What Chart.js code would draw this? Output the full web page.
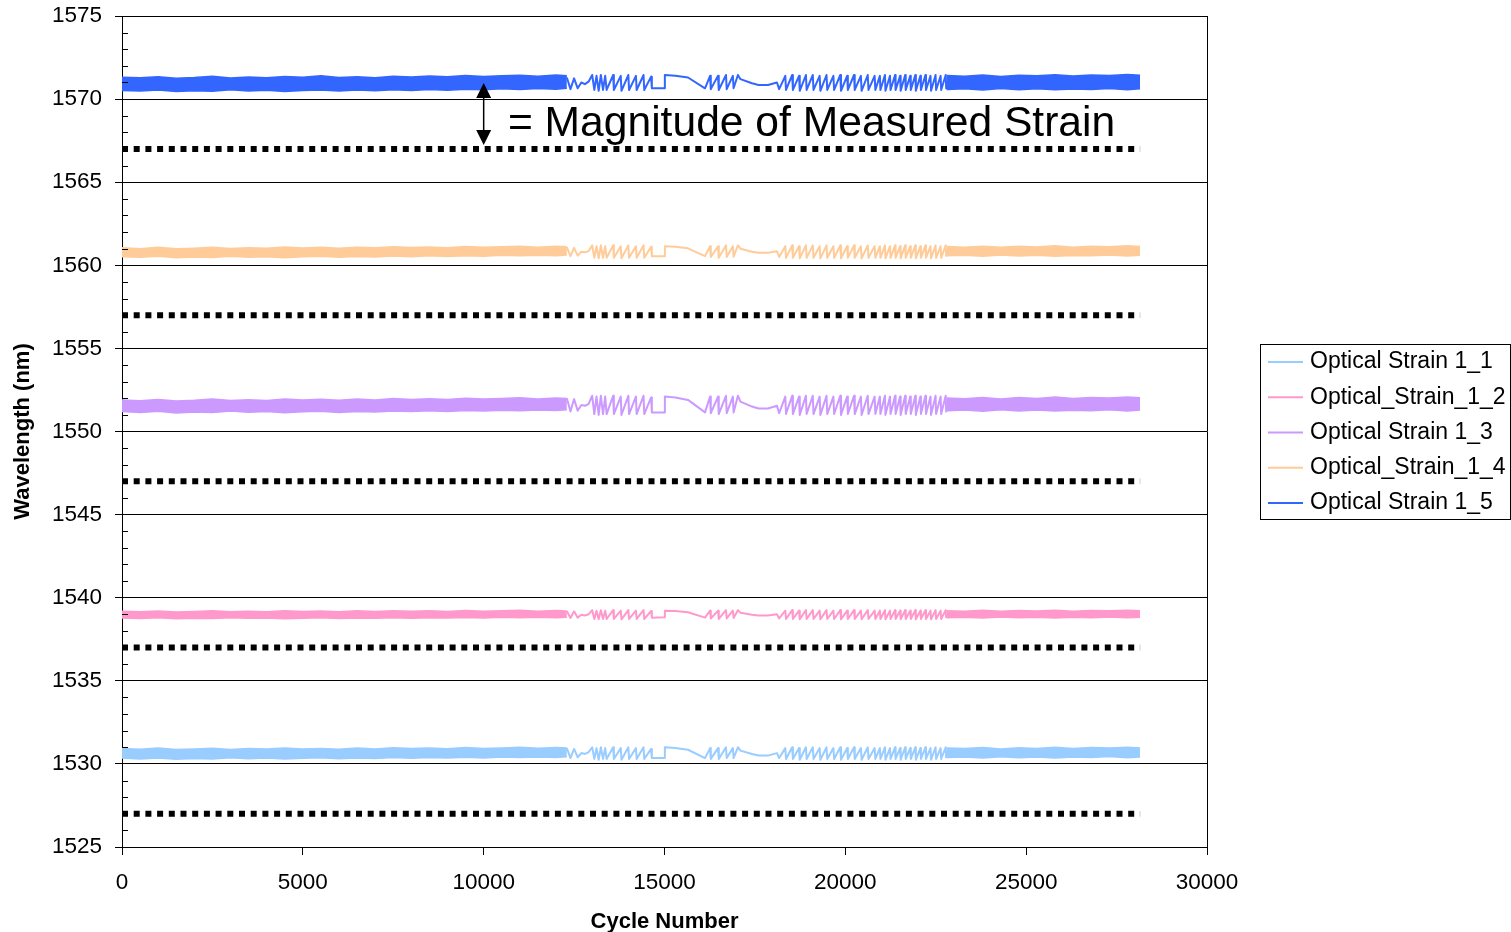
<!DOCTYPE html>
<html>
<head>
<meta charset="utf-8">
<title>Optical strain - wavelength vs cycle number</title>
<script src="https://cdn.jsdelivr.net/npm/chart.js@4.4.1/dist/chart.umd.min.js"></script>
<style>
  html, body { margin: 0; padding: 0; background: #fff; }
  .chart { width: 1511px; height: 932px; }
</style>
</head>
<body>
<div class="chart"><canvas id="myChart"></canvas></div>
<script>
const FONT = "'Liberation Sans', Arial, sans-serif";

const seriesNames  = ["Optical Strain 1_1", "Optical_Strain_1_2", "Optical Strain 1_3", "Optical_Strain_1_4", "Optical Strain 1_5"];
const seriesColors = ["#99ccff", "#ff99cc", "#cc99ff", "#ffcc99", "#3366ff"];

const xTickValues = [0, 5000, 10000, 15000, 20000, 25000, 30000];
const yTickValues = [1525, 1530, 1535, 1540, 1545, 1550, 1555, 1560, 1565, 1570, 1575];

// zero-strain reference wavelengths (dotted lines)
const baselineLevels = [1527, 1537, 1547, 1557, 1567];
const baselineSpan   = [0, 28150];

// dense part of the record: drawn as a band between upper and lower envelope
const bandCyclesA = [0, 500, 1000, 1500, 2000, 2500, 3000, 3500, 4000, 4500, 5000, 5500, 6000,
                     6500, 7000, 7500, 8000, 8500, 9000, 9500, 10000, 10500, 11000, 11500, 12000, 12300];
const bandCyclesB = [22800, 23300, 23800, 24300, 24800, 25300, 25800, 26300, 26800, 27300, 27800, 28150];

// sparse part of the record: individual load cycles
const midCycles = [
  12300, 12400, 12500, 12600, 12700, 12800, 12900, 13000, 13060, 13120, 13180, 13240, 13300, 13360,
  13400, 13580, 13600, 13790, 13810, 14000, 14020, 14210, 14230, 14420, 14440, 14630, 14650,
  14990, 15010, 15300, 15650, 16120,
  16260, 16280, 16480, 16500, 16700, 16720, 16890, 16910, 17030,
  17100, 17420, 17600, 17860, 18110,
  18170, 18340, 18360, 18530, 18550, 18720, 18740, 18910, 18930, 19100, 19120, 19290, 19310, 19480, 19500,
  19670, 19690, 19860, 19880, 20050, 20070, 20240, 20260, 20430, 20450, 20620, 20640, 20810, 20830,
  20955, 20970, 21095, 21110, 21235, 21250, 21375, 21390, 21515, 21530, 21655, 21670, 21795, 21810,
  21935, 21950, 22075, 22090, 22215, 22230, 22355, 22370, 22495, 22510, 22635, 22650, 22775, 22790
];

// Optical Strain 1_1
const s1HiA = [1530.92, 1530.88, 1530.95, 1530.86, 1530.90, 1530.94, 1530.87, 1530.92, 1530.89, 1530.96, 1530.90, 1530.93, 1530.88,
               1530.95, 1530.90, 1530.97, 1530.92, 1530.95, 1530.91, 1530.98, 1530.93, 1530.96, 1531.00, 1530.94, 1530.99, 1530.95];
const s1LoA = [1530.35, 1530.30, 1530.36, 1530.28, 1530.33, 1530.30, 1530.37, 1530.31, 1530.35, 1530.29, 1530.34, 1530.37, 1530.31,
               1530.36, 1530.33, 1530.38, 1530.34, 1530.39, 1530.35, 1530.40, 1530.36, 1530.41, 1530.38, 1530.42, 1530.39, 1530.43];
const s1HiB = [1530.96, 1530.92, 1530.98, 1530.90, 1530.97, 1530.93, 1531.00, 1530.92, 1530.98, 1530.95, 1531.00, 1530.96];
const s1LoB = [1530.38, 1530.42, 1530.35, 1530.43, 1530.37, 1530.42, 1530.36, 1530.41, 1530.38, 1530.44, 1530.37, 1530.42];
const s1Mid = [
  1530.95, 1530.35, 1530.90, 1530.40, 1530.65, 1530.60, 1530.70, 1531.00, 1530.30, 1530.95, 1530.25, 1531.00, 1530.30, 1530.95,
  1530.30, 1531.00, 1530.30, 1530.95, 1530.25, 1531.00, 1530.30, 1530.95, 1530.30, 1531.00, 1530.30, 1530.90, 1530.35,
  1530.35, 1531.00, 1530.95, 1530.85, 1530.35,
  1530.95, 1530.30, 1530.95, 1530.30, 1531.00, 1530.35, 1530.95, 1530.35, 1531.00,
  1530.80, 1530.60, 1530.50, 1530.50, 1530.65,
  1530.35, 1530.95, 1530.30, 1531.00, 1530.30, 1530.95, 1530.25, 1531.00, 1530.30, 1531.00, 1530.30, 1530.95, 1530.25, 1531.00, 1530.30,
  1530.95, 1530.30, 1531.00, 1530.25, 1530.95, 1530.30, 1531.00, 1530.30, 1530.95, 1530.25, 1531.00, 1530.30, 1530.95, 1530.30,
  1530.95, 1530.30, 1531.00, 1530.25, 1530.95, 1530.30, 1531.00, 1530.30, 1530.95, 1530.25, 1531.00, 1530.30, 1530.95, 1530.30,
  1531.00, 1530.25, 1530.95, 1530.30, 1531.00, 1530.30, 1530.95, 1530.25, 1531.00, 1530.30, 1530.95, 1530.30, 1531.00, 1530.35
];

// Optical_Strain_1_2
const s2HiA = [1539.18, 1539.15, 1539.20, 1539.14, 1539.17, 1539.21, 1539.15, 1539.19, 1539.16, 1539.22, 1539.17, 1539.20, 1539.15,
               1539.21, 1539.17, 1539.22, 1539.18, 1539.21, 1539.17, 1539.23, 1539.19, 1539.22, 1539.24, 1539.19, 1539.23, 1539.20];
const s2LoA = [1538.78, 1538.75, 1538.79, 1538.74, 1538.77, 1538.75, 1538.80, 1538.76, 1538.78, 1538.74, 1538.77, 1538.79, 1538.75,
               1538.78, 1538.76, 1538.80, 1538.77, 1538.80, 1538.78, 1538.81, 1538.78, 1538.82, 1538.79, 1538.82, 1538.80, 1538.83];
const s2HiB = [1539.22, 1539.19, 1539.24, 1539.18, 1539.23, 1539.20, 1539.25, 1539.19, 1539.23, 1539.21, 1539.25, 1539.22];
const s2LoB = [1538.80, 1538.83, 1538.78, 1538.84, 1538.79, 1538.83, 1538.78, 1538.82, 1538.80, 1538.84, 1538.79, 1538.82];
const s2Mid = [
  1539.20, 1538.78, 1539.18, 1538.80, 1538.97, 1538.93, 1539.00, 1539.25, 1538.72, 1539.22, 1538.70, 1539.25, 1538.72, 1539.22,
  1538.72, 1539.25, 1538.72, 1539.22, 1538.70, 1539.25, 1538.72, 1539.22, 1538.72, 1539.25, 1538.72, 1539.20, 1538.80,
  1538.82, 1539.22, 1539.20, 1539.12, 1538.80,
  1539.22, 1538.75, 1539.22, 1538.72, 1539.25, 1538.75, 1539.22, 1538.78, 1539.25,
  1539.10, 1538.98, 1538.93, 1538.93, 1539.00,
  1538.75, 1539.22, 1538.72, 1539.25, 1538.72, 1539.22, 1538.70, 1539.25, 1538.72, 1539.25, 1538.72, 1539.22, 1538.70, 1539.25, 1538.72,
  1539.22, 1538.72, 1539.25, 1538.70, 1539.22, 1538.72, 1539.25, 1538.72, 1539.22, 1538.70, 1539.25, 1538.72, 1539.22, 1538.72,
  1539.22, 1538.72, 1539.25, 1538.70, 1539.22, 1538.72, 1539.25, 1538.72, 1539.22, 1538.70, 1539.25, 1538.72, 1539.22, 1538.72,
  1539.25, 1538.70, 1539.22, 1538.72, 1539.25, 1538.72, 1539.22, 1538.70, 1539.25, 1538.72, 1539.22, 1538.72, 1539.25, 1538.78
];

// Optical Strain 1_3
const s3HiA = [1551.90, 1551.85, 1551.93, 1551.84, 1551.88, 1551.95, 1551.86, 1551.91, 1551.87, 1551.96, 1551.90, 1551.94, 1551.88,
               1551.95, 1551.90, 1551.98, 1551.93, 1551.97, 1551.92, 1552.00, 1551.95, 1551.99, 1552.03, 1551.96, 1552.02, 1551.98];
const s3LoA = [1551.20, 1551.15, 1551.22, 1551.12, 1551.18, 1551.14, 1551.23, 1551.16, 1551.20, 1551.13, 1551.19, 1551.22, 1551.15,
               1551.21, 1551.18, 1551.24, 1551.20, 1551.25, 1551.21, 1551.27, 1551.23, 1551.28, 1551.25, 1551.30, 1551.27, 1551.31];
const s3HiB = [1552.02, 1551.97, 1552.05, 1551.96, 1552.04, 1551.99, 1552.07, 1551.98, 1552.05, 1552.01, 1552.08, 1552.03];
const s3LoB = [1551.25, 1551.30, 1551.22, 1551.31, 1551.24, 1551.29, 1551.23, 1551.28, 1551.25, 1551.31, 1551.24, 1551.29];
const s3Mid = [
  1552.00, 1551.20, 1551.95, 1551.25, 1551.60, 1551.55, 1551.65, 1552.15, 1551.05, 1552.10, 1551.00, 1552.15, 1551.05, 1552.10,
  1551.05, 1552.15, 1551.05, 1552.10, 1551.00, 1552.15, 1551.05, 1552.10, 1551.05, 1552.15, 1551.05, 1552.05, 1551.15,
  1551.15, 1552.10, 1552.05, 1551.90, 1551.15,
  1552.10, 1551.10, 1552.10, 1551.05, 1552.15, 1551.10, 1552.10, 1551.15, 1552.15,
  1551.80, 1551.50, 1551.38, 1551.38, 1551.55,
  1551.10, 1552.10, 1551.05, 1552.15, 1551.05, 1552.10, 1551.00, 1552.15, 1551.05, 1552.15, 1551.05, 1552.10, 1551.00, 1552.15, 1551.05,
  1552.10, 1551.05, 1552.15, 1551.00, 1552.10, 1551.05, 1552.15, 1551.05, 1552.10, 1551.00, 1552.15, 1551.05, 1552.10, 1551.05,
  1552.10, 1551.05, 1552.15, 1551.00, 1552.10, 1551.05, 1552.15, 1551.05, 1552.10, 1551.00, 1552.15, 1551.05, 1552.10, 1551.05,
  1552.15, 1551.00, 1552.10, 1551.05, 1552.15, 1551.05, 1552.10, 1551.00, 1552.15, 1551.05, 1552.10, 1551.05, 1552.15, 1551.15
];

// Optical_Strain_1_4
const s4HiA = [1561.05, 1561.00, 1561.08, 1560.99, 1561.03, 1561.09, 1561.01, 1561.06, 1561.02, 1561.10, 1561.04, 1561.08, 1561.03,
               1561.09, 1561.05, 1561.11, 1561.07, 1561.10, 1561.06, 1561.13, 1561.08, 1561.12, 1561.15, 1561.09, 1561.14, 1561.11];
const s4LoA = [1560.52, 1560.48, 1560.54, 1560.46, 1560.50, 1560.47, 1560.55, 1560.49, 1560.52, 1560.46, 1560.51, 1560.54, 1560.48,
               1560.53, 1560.50, 1560.56, 1560.52, 1560.57, 1560.53, 1560.58, 1560.55, 1560.60, 1560.57, 1560.61, 1560.58, 1560.62];
const s4HiB = [1561.13, 1561.09, 1561.15, 1561.08, 1561.14, 1561.10, 1561.17, 1561.09, 1561.15, 1561.12, 1561.18, 1561.13];
const s4LoB = [1560.57, 1560.61, 1560.55, 1560.62, 1560.56, 1560.60, 1560.55, 1560.59, 1560.57, 1560.62, 1560.56, 1560.60];
const s4Mid = [
  1561.10, 1560.55, 1561.05, 1560.58, 1560.82, 1560.78, 1560.85, 1561.20, 1560.45, 1561.15, 1560.42, 1561.20, 1560.45, 1561.15,
  1560.45, 1561.20, 1560.45, 1561.15, 1560.42, 1561.20, 1560.45, 1561.15, 1560.45, 1561.20, 1560.45, 1561.12, 1560.55,
  1560.55, 1561.15, 1561.12, 1561.02, 1560.55,
  1561.15, 1560.50, 1561.15, 1560.45, 1561.20, 1560.50, 1561.15, 1560.52, 1561.20,
  1561.00, 1560.82, 1560.75, 1560.75, 1560.85,
  1560.50, 1561.15, 1560.45, 1561.20, 1560.45, 1561.15, 1560.42, 1561.20, 1560.45, 1561.20, 1560.45, 1561.15, 1560.42, 1561.20, 1560.45,
  1561.15, 1560.45, 1561.20, 1560.42, 1561.15, 1560.45, 1561.20, 1560.45, 1561.15, 1560.42, 1561.20, 1560.45, 1561.15, 1560.45,
  1561.15, 1560.45, 1561.20, 1560.42, 1561.15, 1560.45, 1561.20, 1560.45, 1561.15, 1560.42, 1561.20, 1560.45, 1561.15, 1560.45,
  1561.20, 1560.42, 1561.15, 1560.45, 1561.20, 1560.45, 1561.15, 1560.42, 1561.20, 1560.45, 1561.15, 1560.45, 1561.20, 1560.52
];

// Optical Strain 1_5
const s5HiA = [1571.32, 1571.28, 1571.35, 1571.25, 1571.30, 1571.38, 1571.27, 1571.33, 1571.29, 1571.36, 1571.31, 1571.40, 1571.30,
               1571.34, 1571.28, 1571.37, 1571.33, 1571.39, 1571.35, 1571.42, 1571.36, 1571.40, 1571.44, 1571.38, 1571.45, 1571.40];
const s5LoA = [1570.52, 1570.48, 1570.55, 1570.45, 1570.50, 1570.47, 1570.56, 1570.49, 1570.53, 1570.46, 1570.51, 1570.55, 1570.48,
               1570.54, 1570.50, 1570.57, 1570.52, 1570.58, 1570.54, 1570.60, 1570.56, 1570.62, 1570.58, 1570.64, 1570.60, 1570.66];
const s5HiB = [1571.42, 1571.38, 1571.45, 1571.36, 1571.44, 1571.40, 1571.47, 1571.39, 1571.45, 1571.42, 1571.48, 1571.43];
const s5LoB = [1570.58, 1570.62, 1570.55, 1570.64, 1570.57, 1570.63, 1570.56, 1570.61, 1570.58, 1570.64, 1570.57, 1570.62];
const s5Mid = [
  1571.30, 1570.60, 1571.25, 1570.65, 1571.00, 1570.90, 1571.05, 1571.45, 1570.55, 1571.40, 1570.50, 1571.45, 1570.55, 1571.40,
  1570.55, 1571.45, 1570.55, 1571.40, 1570.50, 1571.45, 1570.55, 1571.40, 1570.55, 1571.45, 1570.55, 1571.35, 1570.65,
  1570.65, 1571.45, 1571.40, 1571.30, 1570.65,
  1571.40, 1570.60, 1571.40, 1570.55, 1571.45, 1570.60, 1571.40, 1570.65, 1571.45,
  1571.20, 1570.95, 1570.85, 1570.85, 1571.00,
  1570.60, 1571.40, 1570.55, 1571.45, 1570.55, 1571.40, 1570.50, 1571.45, 1570.55, 1571.45, 1570.55, 1571.40, 1570.50, 1571.45, 1570.55,
  1571.40, 1570.55, 1571.45, 1570.50, 1571.40, 1570.55, 1571.45, 1570.55, 1571.40, 1570.50, 1571.45, 1570.55, 1571.40, 1570.55,
  1571.40, 1570.55, 1571.45, 1570.50, 1571.40, 1570.55, 1571.45, 1570.55, 1571.40, 1570.50, 1571.45, 1570.55, 1571.40, 1570.55,
  1571.45, 1570.50, 1571.40, 1570.55, 1571.45, 1570.55, 1571.40, 1570.50, 1571.45, 1570.55, 1571.40, 1570.55, 1571.45, 1570.60
];

const seriesData = [
  [s1HiA, s1LoA, s1HiB, s1LoB, s1Mid],
  [s2HiA, s2LoA, s2HiB, s2LoB, s2Mid],
  [s3HiA, s3LoA, s3HiB, s3LoB, s3Mid],
  [s4HiA, s4LoA, s4HiB, s4LoB, s4Mid],
  [s5HiA, s5LoA, s5HiB, s5LoB, s5Mid]
];

const arrowCycle = 10000;
const arrowFrom  = 1570.97;
const arrowTo    = 1567.24;
const noteText   = "= Magnitude of Measured Strain";
const noteAt     = { x: 10670, y: 1567.8 };

function pts(xs, ys) {
  return xs.map((x, i) => ({ x: x, y: ys[i] }));
}

const datasets = [];

seriesData.forEach((arrs, i) => {
  const color = seriesColors[i];
  const [hiA, loA, hiB, loB, mid] = arrs;
  const edge = { borderColor: color, borderWidth: 1.5, pointRadius: 0, tension: 0 };

  let top = datasets.length;
  datasets.push({ ...edge, label: "", data: pts(bandCyclesA, hiA), fill: false });
  datasets.push({ ...edge, label: "", data: pts(bandCyclesA, loA), fill: { target: top }, backgroundColor: color });
  top = datasets.length;
  datasets.push({ ...edge, label: "", data: pts(bandCyclesB, hiB), fill: false });
  datasets.push({ ...edge, label: "", data: pts(bandCyclesB, loB), fill: { target: top }, backgroundColor: color });

  datasets.push({
    label: seriesNames[i],
    data: pts(midCycles, mid),
    borderColor: color,
    borderWidth: 2,
    borderJoinStyle: "round",
    pointRadius: 0,
    fill: false,
    tension: 0
  });
});

baselineLevels.forEach(level => {
  datasets.push({
    label: "",
    data: baselineSpan.map(c => ({ x: c, y: level })),
    borderColor: "#000",
    borderWidth: 6,
    borderDash: [6, 5.7],
    borderCapStyle: "butt",
    pointRadius: 0,
    fill: false
  });
});

// minor ticks, plot border, arrow + note, boxed legend
const decorations = {
  id: "decorations",
  afterDatasetsDraw(chart) {
    const { ctx, chartArea: area, scales: { x, y } } = chart;
    ctx.save();
    ctx.strokeStyle = "#000";
    ctx.lineWidth = 1;
    ctx.beginPath();
    for (let v = yTickValues[0] + 1; v < yTickValues[yTickValues.length - 1]; v++) {
      if (v % 5 === 0) continue;
      const py = Math.round(y.getPixelForValue(v)) + 0.5;
      ctx.moveTo(area.left, py);
      ctx.lineTo(area.left + 6, py);
    }
    ctx.moveTo(Math.round(area.right) + 0.5, area.top);
    ctx.lineTo(Math.round(area.right) + 0.5, area.bottom);
    ctx.stroke();

    const ax = x.getPixelForValue(arrowCycle);
    const t = y.getPixelForValue(arrowFrom);
    const b = y.getPixelForValue(arrowTo);
    const head = 15, half = 7.5;
    ctx.fillStyle = "#000";
    ctx.lineWidth = 1.5;
    ctx.beginPath();
    ctx.moveTo(ax, t + head - 1);
    ctx.lineTo(ax, b - head + 1);
    ctx.stroke();
    ctx.beginPath();
    ctx.moveTo(ax, t);
    ctx.lineTo(ax - half, t + head);
    ctx.lineTo(ax + half, t + head);
    ctx.closePath();
    ctx.fill();
    ctx.beginPath();
    ctx.moveTo(ax, b);
    ctx.lineTo(ax - half, b - head);
    ctx.lineTo(ax + half, b - head);
    ctx.closePath();
    ctx.fill();

    ctx.font = "42.6px " + FONT;
    ctx.textAlign = "left";
    ctx.textBaseline = "alphabetic";
    ctx.fillText(noteText, x.getPixelForValue(noteAt.x), y.getPixelForValue(noteAt.y));
    ctx.restore();
  },
  afterDraw(chart) {
    const { ctx, chartArea: area } = chart;
    const lw = 250, lh = 175, rowH = 35.25;
    const lx = Math.round(area.right) + 53;
    const ly = Math.round((area.top + area.bottom) / 2 - lh / 2);
    ctx.save();
    ctx.fillStyle = "#fff";
    ctx.fillRect(lx, ly, lw, lh);
    ctx.strokeStyle = "#000";
    ctx.lineWidth = 1;
    ctx.strokeRect(lx + 0.5, ly + 0.5, lw, lh);
    ctx.font = "23px " + FONT;
    ctx.textBaseline = "middle";
    ctx.textAlign = "left";
    seriesNames.forEach((name, i) => {
      const yy = ly + 18 + i * rowH;
      ctx.strokeStyle = seriesColors[i];
      ctx.lineWidth = 2;
      ctx.beginPath();
      ctx.moveTo(lx + 8, yy);
      ctx.lineTo(lx + 43, yy);
      ctx.stroke();
      ctx.fillStyle = "#000";
      ctx.fillText(name, lx + 50, yy);
    });
    ctx.restore();
  }
};

new Chart(document.getElementById("myChart"), {
  type: "line",
  data: { datasets: datasets },
  plugins: [decorations],
  options: {
    responsive: true,
    maintainAspectRatio: false,
    animation: false,
    events: [],
    layout: { padding: { top: 16, right: 304, left: 0, bottom: 0 } },
    plugins: {
      legend: { display: false },
      tooltip: { enabled: false }
    },
    scales: {
      x: {
        type: "linear",
        min: 0,
        max: 30000,
        afterBuildTicks: s => { s.ticks = xTickValues.map(v => ({ value: v })); },
        afterFit: s => { s.height = 85; },
        ticks: {
          color: "#000",
          font: { family: FONT, size: 22.5 },
          padding: 14,
          maxRotation: 0,
          callback: v => String(v)
        },
        grid: { drawOnChartArea: false, drawTicks: true, tickLength: 8, color: "#000" },
        border: { display: true, color: "#000", width: 1 },
        title: {
          display: true,
          text: "Cycle Number",
          color: "#000",
          font: { family: FONT, size: 22, weight: "bold" },
          padding: { top: 0, bottom: -3 }
        }
      },
      y: {
        type: "linear",
        min: 1525,
        max: 1575,
        afterBuildTicks: s => { s.ticks = yTickValues.map(v => ({ value: v })); },
        afterFit: s => { s.width = 122; s.paddingTop = 0; s.paddingBottom = 0; },
        ticks: {
          color: "#000",
          font: { family: FONT, size: 22.5 },
          padding: 13,
          callback: v => String(v)
        },
        grid: { color: "#000", lineWidth: 1, drawTicks: true, tickLength: 7 },
        border: { display: true, color: "#000", width: 1 },
        title: {
          display: true,
          text: "Wavelength (nm)",
          color: "#000",
          font: { family: FONT, size: 22, weight: "bold" },
          padding: { top: 10, bottom: 0 }
        }
      }
    }
  }
});
</script>
</body>
</html>
